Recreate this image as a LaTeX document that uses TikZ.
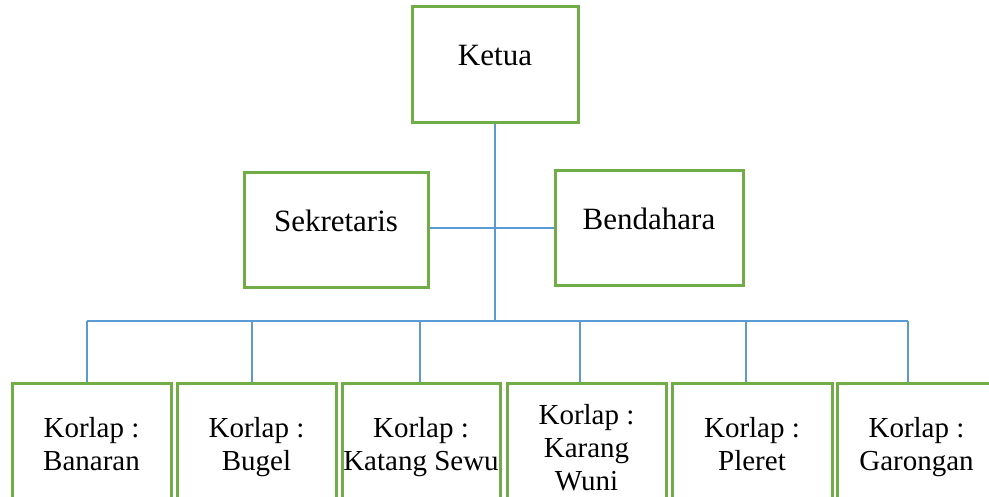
\documentclass[tikz,border=0pt]{standalone}
\usepackage{fontspec}
\setmainfont{Liberation Serif}
\definecolor{boxgreen}{HTML}{70AD47}
\definecolor{linkblue}{HTML}{5B9BD5}
\tikzset{
	unit/.style={rectangle, draw=boxgreen, line width=3, align=center, inner sep=0pt},
	topunit/.style={unit, text depth=20, font=\fontsize{31}{35}\selectfont},
	korlap/.style={unit, text depth=7, minimum width=159, minimum height=128, font=\fontsize{29}{33}\selectfont},
	link/.style={draw=linkblue, line width=1.2}
}
\begin{document}
\begin{tikzpicture}[x=1pt, y=-1pt]
\useasboundingbox (0,0) rectangle (989,497);
\clip (0,0) rectangle (989,497);
	\node[topunit, minimum width=166, minimum height=116] (ketua) at (495,65) {Ketua};
	\node[topunit, minimum width=184, minimum height=115] (sekretaris) at (336,230.5) {Sekretaris};
	\node[topunit, minimum width=188, minimum height=115] (bendahara) at (649,228.5) {Bendahara};
	\node[korlap] (banaran) at (91.5,447) {Korlap :\\Banaran};
	\node[korlap] (bugel) at (256.5,447) {Korlap :\\Bugel};
	\node[korlap, minimum width=158] (katang) at (421,447) {Korlap :\\\makebox[0pt]{Katang Sewu}};
	\node[korlap, minimum height=136] (karang) at (586.5,451) {Korlap :\\Karang\\Wuni};
	\node[korlap, minimum width=160] (pleret) at (752,447) {Korlap :\\Pleret};
	\node[korlap] (garongan) at (916.5,447) {Korlap :\\Garongan};
	% bus to the korlap boxes
	\coordinate (b1) at (87,321);
	\coordinate (b2) at (252,321);
	\coordinate (b3) at (420,321);
	\coordinate (b4) at (580,321);
	\coordinate (b5) at (746,321);
	\coordinate (b6) at (908,321);
	\draw[link] (ketua.south) -- (ketua.south |- b1);
	\draw[link] (sekretaris.east |- 0,228) -- (bendahara.west |- 0,228);
	\draw[link] (b1) -- (b6);
	\draw[link] (b1) -- (b1 |- banaran.north);
	\draw[link] (b2) -- (b2 |- bugel.north);
	\draw[link] (b3) -- (b3 |- katang.north);
	\draw[link] (b4) -- (b4 |- karang.north);
	\draw[link] (b5) -- (b5 |- pleret.north);
	\draw[link] (b6) -- (b6 |- garongan.north);
\end{tikzpicture}
\end{document}
